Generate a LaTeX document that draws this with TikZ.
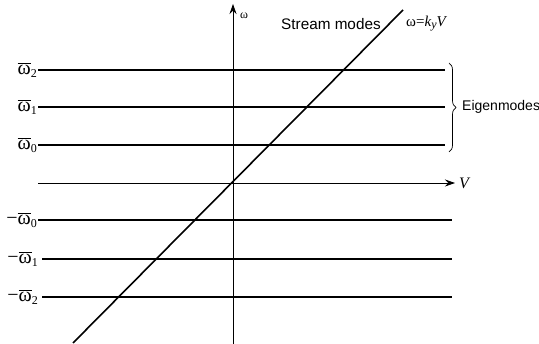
\documentclass[tikz,border=0pt]{standalone}
\usepackage{fontspec}
\setmainfont{Liberation Sans}
\newfontfamily\lserif{Liberation Serif}
\usetikzlibrary{arrows.meta,decorations.pathreplacing}
\newcommand{\wbar}{$\overline{\hbox{ω}}$}
\newcommand{\lsub}[1]{\raisebox{-0.3ex}{\fontsize{12}{13}\selectfont #1}}
\begin{document}
\begin{tikzpicture}[x=1pt,y=-1pt,
  level/.style={line width=1.6pt},
  axisline/.style={line width=0.7pt,-{Stealth[length=10pt,width=7pt]}},
  lab/.style={font=\lserif\fontsize{20}{22}\selectfont,inner sep=0pt,anchor=east},
  sanslab/.style={font=\fontsize{14}{16}\selectfont,inner sep=0pt,anchor=west}]
\useasboundingbox (0,0) rectangle (539,344);
% axes
\coordinate (vb) at (233,344);
\coordinate (vt) at (233,4);
\coordinate (hl) at (38,183);
\coordinate (hr) at (455,183);
\draw[axisline] (vb) -- (vt);
\draw[axisline] (hl) -- (hr);
\node[font=\lserif\fontsize{12}{14}\selectfont,inner sep=0pt] (wax) at (244,15.5) {ω};
\node[font=\lserif\itshape\fontsize{16}{18}\selectfont,inner sep=0pt,anchor=west] (vax) at (459,183) {V};
% positive levels
\node[lab] (p2) at (37,70) {\wbar\lsub{2}};
\node[lab] (p1) at (37,107) {\wbar\lsub{1}};
\node[lab] (p0) at (37,145) {\wbar\lsub{0}};
\coordinate (p2e) at (445,70);
\coordinate (p1e) at (445,107);
\coordinate (p0e) at (445,145);
\draw[level] (p2.east) ++(1,0) -- (p2e);
\draw[level] (p1.east) ++(1,0) -- (p1e);
\draw[level] (p0.east) ++(1,0) -- (p0e);
% negative levels
\node[lab] (m0) at (37,220) {−\wbar\lsub{0}};
\node[lab] (m1) at (38,259) {−\wbar\lsub{1}};
\node[lab] (m2) at (38,297) {−\wbar\lsub{2}};
\coordinate (m0e) at (452,220);
\coordinate (m1e) at (452,259);
\coordinate (m2e) at (452,297);
\draw[level] (m0.east) ++(1,0) -- (m0e);
\draw[level] (m1.east) ++(4,0) -- (m1e);
\draw[level] (m2.east) ++(4,0) -- (m2e);
% stream mode line
\coordinate (sb) at (73,343);
\coordinate (st) at (403,10);
\draw[level] (sb) -- (st);
\node[sanslab,font=\fontsize{15.3}{17}\selectfont] (stream) at (281,24) {Stream modes};
\node[font=\lserif\fontsize{15}{18}\selectfont,inner sep=0pt,anchor=west] (disp) at (406,24) {ω=\textit{k}\lsub{\textit{y}}\textit{V}};
% brace
\coordinate (bt) at (449,63);
\coordinate (bb) at (449,152);
\draw[line width=0.7pt,decorate,decoration={brace,amplitude=7pt}] (bt) -- (bb);
\node[sanslab] (eig) at (462,107) {Eigenmodes};
\end{tikzpicture}
\end{document}
